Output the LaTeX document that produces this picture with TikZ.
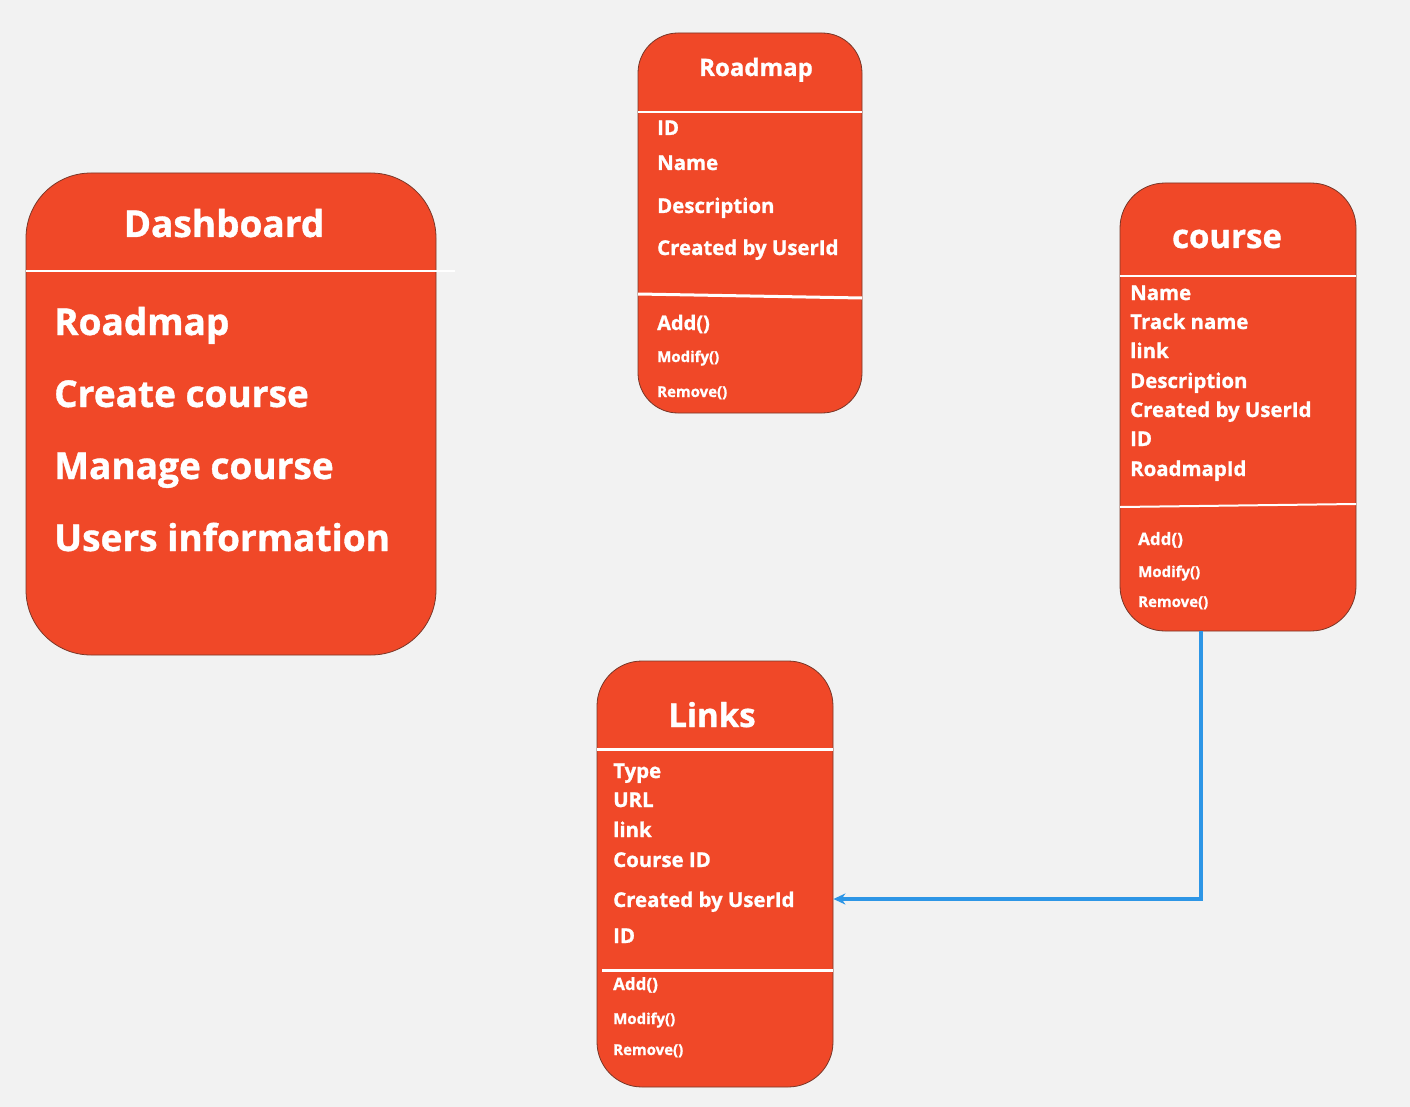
\documentclass[tikz,border=0pt]{standalone}
\usepackage{fontspec}
\setmainfont{Open Sans}[BoldFeatures={FakeBold=1}]
\usetikzlibrary{arrows.meta}
\definecolor{paper}{RGB}{242,242,242}
\definecolor{boxred}{RGB}{240,72,40}
\definecolor{boxline}{RGB}{120,55,40}
\definecolor{linkblue}{RGB}{45,150,230}
\begin{document}
\begin{tikzpicture}[x=1pt, y=-1pt,
	box/.style={draw=boxline, line width=0.8pt, fill=boxred, inner sep=0pt},
	title/.style={text=white, font=\bfseries\fontsize{#1}{#1}\selectfont, anchor=base, inner sep=0pt},
	item/.style={text=white, font=\bfseries\fontsize{#1}{#1}\selectfont, anchor=base west, inner sep=0pt},
	divider/.style={draw=white, line width=#1},
	link/.style={draw=linkblue, line width=3.5pt, -{Stealth[length=12pt, width=11pt]}}
]
\fill[paper] (0,0) rectangle (1410,1107);
\node[box, rounded corners=65pt, minimum width=410pt, minimum height=482pt] (dashboard) at (231,414) {};
\node[box, rounded corners=40pt, minimum width=224pt, minimum height=380pt] (roadmap) at (750,223) {};
\node[box, rounded corners=45pt, minimum width=236pt, minimum height=448pt] (course) at (1238,407) {};
\node[box, rounded corners=45pt, minimum width=236pt, minimum height=426pt] (links) at (715,874) {};
\draw[divider=1.5pt] (26,271) -- (455,271);
\draw[divider=2.5pt] (638,112) -- (862,112);
\draw[divider=3pt] (638,294) -- (862,298);
\draw[divider=2pt] (1120,276) -- (1356,276);
\draw[divider=2pt] (1120,507) -- (1356,504);
\draw[divider=3pt] (597,749) -- (833,749);
\draw[divider=3pt] (602,970) -- (833,970);
\node[title=37] (dashboard-title) at (224,237) {Dashboard};
\node[title=24] (roadmap-title) at (756,76) {Roadmap};
\node[title=33] (course-title) at (1227,248) {course};
\node[title=33] (links-title) at (712,727) {Links};
\foreach \t/\y [count=\i] in {Roadmap/335, Create course/407, Manage course/479, Users information/551}
	\node[item=37] (dashboard-a\i) at (54,\y) {\t};
\foreach \t/\y [count=\i] in {ID/135, Name/170, Description/213, Created by UserId/255}
	\node[item=20.4] (roadmap-a\i) at (657,\y) {\t};
\node[item=20] (roadmap-m1) at (657,330) {Add()};
\foreach \t/\y [count=\i from 2] in {Modify()/362, Remove()/397}
	\node[item=15] (roadmap-m\i) at (657,\y) {\t};
\foreach \t/\y [count=\i] in {Name/300, Track name/329, link/358, Description/388, Created by UserId/417, ID/446, RoadmapId/476}
	\node[item=20.4] (course-a\i) at (1130,\y) {\t};
\node[item=17] (course-m1) at (1138,545) {Add()};
\foreach \t/\y [count=\i from 2] in {Modify()/577, Remove()/607}
	\node[item=15] (course-m\i) at (1138,\y) {\t};
\foreach \t/\y [count=\i] in {Type/778, URL/807, link/837, Course ID/867, Created by UserId/907, ID/943}
	\node[item=20.4] (links-a\i) at (613,\y) {\t};
\node[item=17] (links-m1) at (613,990) {Add()};
\foreach \t/\y [count=\i from 2] in {Modify()/1024, Remove()/1055}
	\node[item=15] (links-m\i) at (613,\y) {\t};
\coordinate (bend) at (1201,899);
\draw[link] (course.south -| bend) -- (bend) -- (bend -| links.east);
\end{tikzpicture}
\end{document}
